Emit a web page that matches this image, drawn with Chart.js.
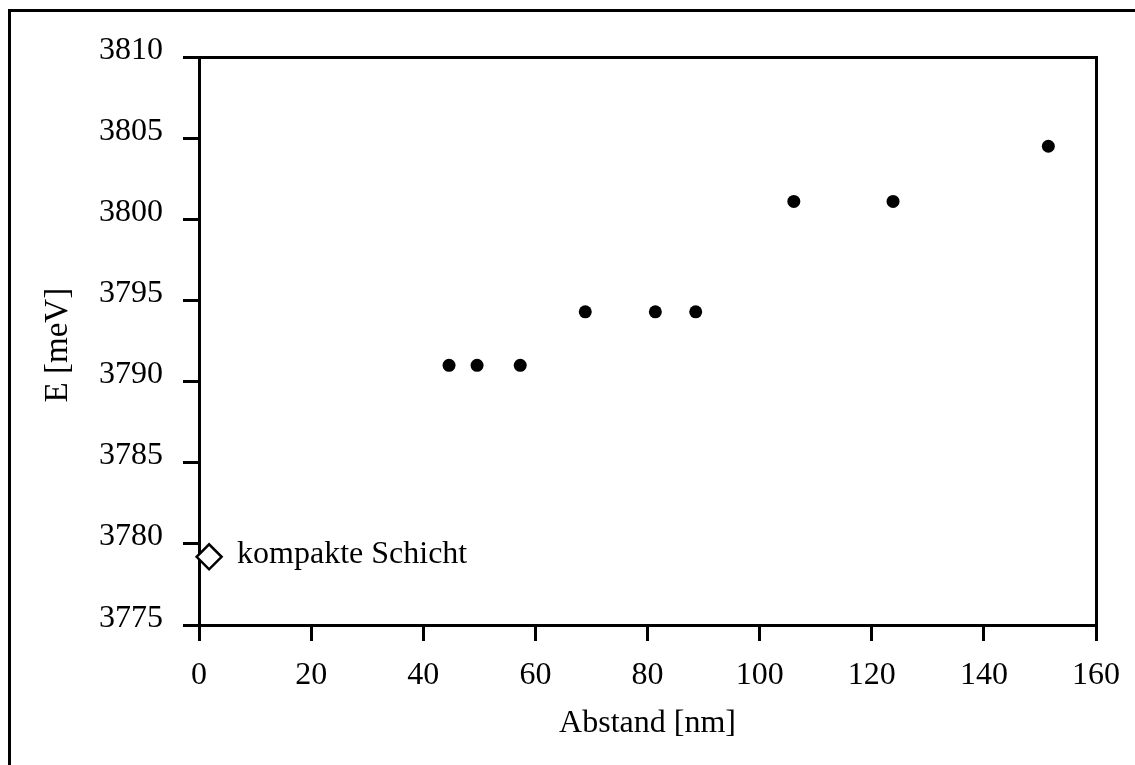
<!DOCTYPE html>
<html><head><meta charset="utf-8">
<script src="https://cdn.jsdelivr.net/npm/chart.js@4"></script>
<style>html,body{margin:0;padding:0;background:#fff}canvas{display:block}</style>
</head><body>
<canvas id="c" width="1135" height="765"></canvas>
<script>
// ---- data ----
const distances = [44.6, 49.6, 57.3, 68.9, 81.4, 88.6, 106.1, 123.8, 151.5];
const energies  = [3791.0, 3791.0, 3791.0, 3794.3, 3794.3, 3794.3, 3801.1, 3801.1, 3804.5];
const compactX = [1.8];
const compactE = [3779.2];
const compactLabel = 'kompakte Schicht';
const xTicks = [0, 20, 40, 60, 80, 100, 120, 140, 160];
const yTicks = [3775, 3780, 3785, 3790, 3795, 3800, 3805, 3810];
const xTitle = 'Abstand [nm]';
const yTitle = 'E [meV] ';

const FONT = 'Liberation Serif, Times New Roman, serif';
const FS = 32;

const framePlugin = {
  id: 'frame',
  beforeDatasetsDraw(chart) {
    const {ctx, chartArea: a} = chart;
    ctx.save();
    ctx.strokeStyle = '#000';
    ctx.lineWidth = 3;
    ctx.strokeRect(9.5, 10.5, 3000, 3000);
    const l = Math.round(a.left) + 0.5, t = Math.round(a.top) + 0.5;
    const r = Math.round(a.right) + 0.5, b = Math.round(a.bottom) + 0.5;
    ctx.strokeRect(l, t, r - l, b - t);
    ctx.restore();
  },
  afterDatasetsDraw(chart) {
    const {ctx} = chart;
    const meta = chart.getDatasetMeta(1);
    const el = meta.data[0];
    if (!el) return;
    ctx.save();
    ctx.fillStyle = '#000';
    ctx.font = FS + 'px ' + FONT;
    ctx.textAlign = 'left';
    ctx.textBaseline = 'middle';
    ctx.fillText(compactLabel, el.x + 28, el.y - 2);
    ctx.restore();
  }
};

new Chart(document.getElementById('c'), {
  type: 'scatter',
  data: {
    datasets: [
      {
        data: distances.map((x, i) => ({x, y: energies[i]})),
        pointStyle: 'circle',
        pointRadius: 6.5,
        pointBackgroundColor: '#000',
        pointBorderWidth: 0,
        showLine: false
      },
      {
        data: compactX.map((x, i) => ({x, y: compactE[i]})),
        pointStyle: 'rectRot',
        pointRadius: 12.5,
        pointBackgroundColor: '#fff',
        pointBorderColor: '#000',
        pointBorderWidth: 2.5,
        showLine: false,
        clip: false
      }
    ]
  },
  options: {
    responsive: false,
    animation: false,
    events: [],
    layout: {padding: {left: 0, top: 57, right: 38, bottom: 0}, autoPadding: false},
    plugins: {legend: {display: false}, tooltip: {enabled: false}},
    scales: {
      x: {
        type: 'linear',
        min: 0, max: 160,
        afterBuildTicks: s => { s.ticks = xTicks.map(v => ({value: v})); },
        afterFit: s => { s.height = 140; },
        border: {display: false},
        grid: {drawOnChartArea: false, drawTicks: true, tickLength: 16, color: '#000', lineWidth: 3},
        ticks: {
          color: '#000', padding: 15, maxRotation: 0, autoSkip: false,
          font: {family: FONT, size: FS, lineHeight: 1.2},
          callback: v => String(v)
        },
        title: {
          display: true, text: xTitle, color: '#000',
          font: {family: FONT, size: FS, lineHeight: 1},
          padding: {top: 0, bottom: 25}
        }
      },
      y: {
        type: 'linear',
        min: 3775, max: 3810,
        afterBuildTicks: s => { s.ticks = yTicks.map(v => ({value: v})); },
        afterFit: s => { s.width = 199; },
        border: {display: false},
        grid: {drawOnChartArea: false, drawTicks: true, tickLength: 16, color: '#000', lineWidth: 3},
        ticks: {
          color: '#000', padding: 20, autoSkip: false,
          font: {family: FONT, size: FS, lineHeight: 0.43},
          callback: v => [String(v), '']
        },
        title: {
          display: true, text: yTitle, color: '#000',
          font: {family: FONT, size: 33, lineHeight: 1},
          padding: {top: 42, bottom: 0}
        }
      }
    }
  },
  plugins: [framePlugin]
});
</script>
</body></html>
